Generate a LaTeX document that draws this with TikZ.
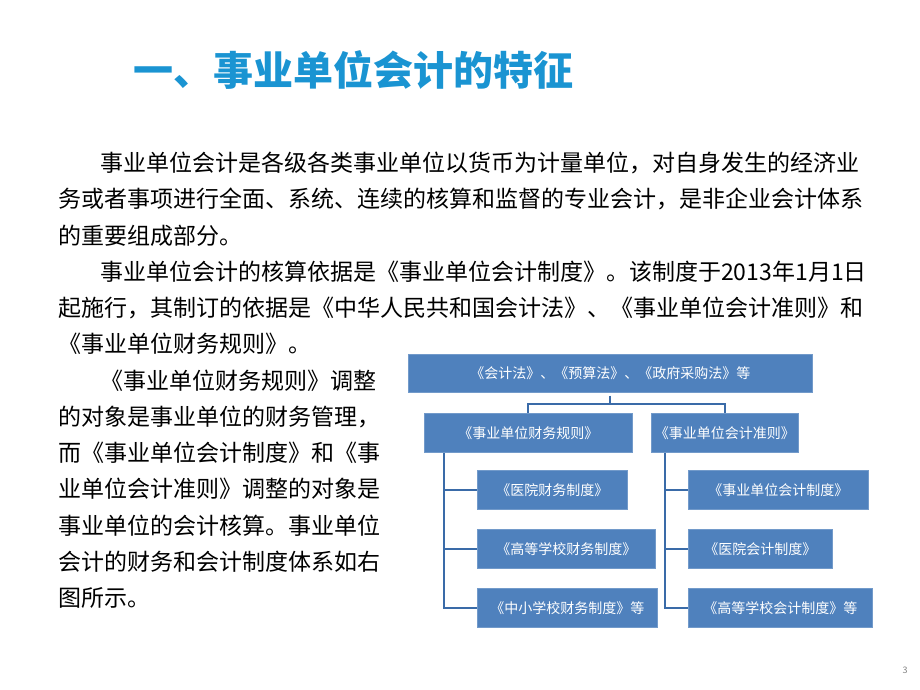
\documentclass[tikz,border=0pt]{standalone}
\usepackage{fontspec}
\setmainfont{Noto Sans CJK SC}
\newfontfamily\cjkb[BoldFont={Noto Sans CJK SC Bold}]{Noto Sans CJK SC}
\definecolor{titleblue}{HTML}{1A94D2}
\definecolor{boxblue}{HTML}{4F81BD}
\definecolor{lineblue}{HTML}{3A6BA8}
\tikzset{
  txt/.style={anchor=west,inner sep=0pt,font=\fontsize{23}{23}\selectfont,text=black},
  bx/.style={fill=boxblue,draw=boxblue!80!white,line width=0.6pt,text=white,font=\fontsize{14}{14}\selectfont,inner sep=0pt,anchor=north west},
  conn/.style={draw=lineblue,line width=2pt}
}
\begin{document}
\begin{tikzpicture}[x=1pt,y=-1pt]
\useasboundingbox (0,0) rectangle (920,690);
\node[anchor=west,inner sep=0pt,text=titleblue,font=\fontsize{40}{40}\selectfont\bfseries] (title) at (133,70) {一、事业单位会计的特征};
\node[txt] (l1) at (100,163) {事业单位会计是各级各类事业单位以货币为计量单位，对自身发生的经济业};
\node[txt] (l2) at (58,199) {务或者事项进行全面、系统、连续的核算和监督的专业会计，是非企业会计体系};
\node[txt] (l3) at (58,236) {的重要组成部分。};
\node[txt] (l4) at (100,272) {事业单位会计的核算依据是《事业单位会计制度》。该制度于2013年1月1日};
\node[txt] (l5) at (58,308) {起施行，其制订的依据是《中华人民共和国会计法》、《事业单位会计准则》和};
\node[txt] (l6) at (58,344) {《事业单位财务规则》。};
\node[txt] (l7) at (100,381) {《事业单位财务规则》调整};
\node[txt] (l8) at (58,417) {的对象是事业单位的财务管理，};
\node[txt] (l9) at (58,453) {而《事业单位会计制度》和《事};
\node[txt] (l10) at (58,489) {业单位会计准则》调整的对象是};
\node[txt] (l11) at (58,526) {事业单位的会计核算。事业单位};
\node[txt] (l12) at (58,562) {会计的财务和会计制度体系如右};
\node[txt] (l13) at (58,598) {图所示。};
\node[anchor=center,inner sep=0pt,text=gray,font=\fontsize{9}{9}\selectfont] (pg) at (905,670) {3};
% boxes
\node[bx,minimum width=404pt,minimum height=38pt] (top) at (408,354) {《会计法》、《预算法》、《政府采购法》等};
\node[bx,minimum width=208pt,minimum height=39pt] (c1) at (424,413) {《事业单位财务规则》};
\node[bx,minimum width=147pt,minimum height=39pt] (c2) at (651,413) {《事业单位会计准则》};
\node[bx,minimum width=150pt,minimum height=39pt] (g1) at (477,470) {《医院财务制度》};
\node[bx,minimum width=178pt,minimum height=39pt] (g2) at (477,529) {《高等学校财务制度》};
\node[bx,minimum width=180pt,minimum height=39pt] (g3) at (477,588) {《中小学校财务制度》等};
\node[bx,minimum width=180pt,minimum height=39pt] (h1) at (688,470) {《事业单位会计制度》};
\node[bx,minimum width=144pt,minimum height=39pt] (h2) at (688,529) {《医院会计制度》};
\node[bx,minimum width=184pt,minimum height=39pt] (h3) at (688,588) {《高等学校会计制度》等};
\coordinate (tl) at (444,453);
\coordinate (tr) at (665,453);
\draw[conn] ([yshift=-3pt]top.south) -- ++(0,8) -| (c1.north);
\draw[conn] ([yshift=-3pt]top.south) ++(0,8) -| (c2.north);
\draw[conn] (tl) |- (g3.west);
\draw[conn] (tl |- g1.west) -- (g1.west);
\draw[conn] (tl |- g2.west) -- (g2.west);
\draw[conn] (tr) |- (h3.west);
\draw[conn] (tr |- h1.west) -- (h1.west);
\draw[conn] (tr |- h2.west) -- (h2.west);
\end{tikzpicture}
\end{document}
